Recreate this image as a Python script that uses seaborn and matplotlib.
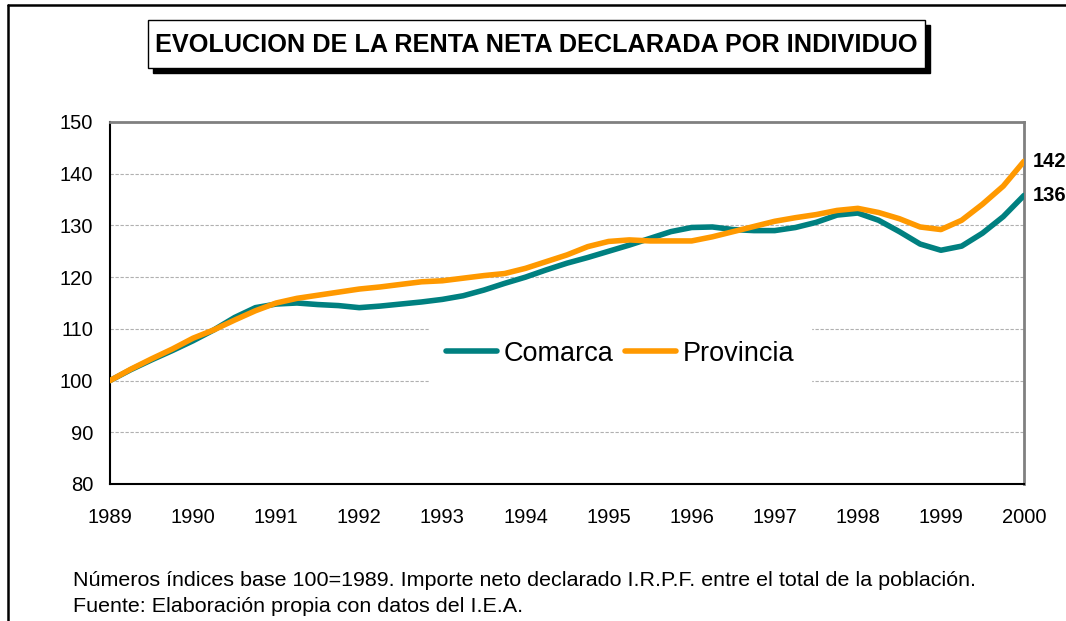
import numpy as np
import pandas as pd
import matplotlib.pyplot as plt
import seaborn as sns
from matplotlib.patches import Rectangle
from matplotlib.lines import Line2D

# -----------------------------------
# Data (quarterly, index 1989 = 100)
# -----------------------------------
periods = np.arange(1989, 2000.01, 0.25)

comarca = [100.0, 102.1, 104.0, 105.8, 107.7, 109.8, 112.2, 114.1,
           114.8, 115.0, 114.7, 114.5, 114.1, 114.4, 114.8, 115.2,
           115.7, 116.4, 117.5, 118.8, 120.0, 121.4, 122.7, 123.8,
           125.0, 126.2, 127.5, 128.8, 129.6, 129.7, 129.2, 129.0,
           129.0, 129.6, 130.6, 132.0, 132.4, 131.0, 128.8, 126.4,
           125.2, 126.0, 128.5, 131.7, 135.8]

provincia = [100.0, 102.2, 104.2, 106.1, 108.2, 109.8, 111.7, 113.5,
             115.0, 115.9, 116.5, 117.1, 117.7, 118.1, 118.6, 119.1,
             119.3, 119.8, 120.3, 120.7, 121.7, 123.0, 124.3, 125.9,
             126.9, 127.2, 127.0, 127.0, 127.0, 127.8, 128.8, 129.8,
             130.8, 131.5, 132.1, 132.9, 133.3, 132.5, 131.3, 129.7,
             129.2, 131.0, 134.1, 137.6, 142.4]

year_ticks = list(range(1989, 2001))
y_ticks = list(range(80, 151, 10))
end_labels = {"Comarca": "136", "Provincia": "142"}

colors = {"Comarca": "#008080", "Provincia": "#FF9900"}

df = pd.DataFrame({
    "periodo": np.concatenate([periods, periods]),
    "indice": comarca + provincia,
    "serie": ["Comarca"] * len(periods) + ["Provincia"] * len(periods),
})

# -----------------------------------
# Plot Style
# -----------------------------------
sns.set_style("white")
plt.rcParams["font.family"] = ["Liberation Sans", "DejaVu Sans"]
plt.rcParams["text.color"] = "black"

W, H = 1066, 621
fig = plt.figure(figsize=(W / 100, H / 100), dpi=100)
ax = fig.add_axes([110 / W, 1 - 484 / H, (1024 - 110) / W, (484 - 122) / H])

# grid lines
for v in y_ticks[1:-1]:
    ax.axhline(v, color="#b0b0b0", lw=0.8, ls=(0, (3, 1.5)), zorder=0)

sns.lineplot(
    data=df,
    x="periodo",
    y="indice",
    hue="serie",
    palette=colors,
    linewidth=4,
    ax=ax,
    legend=False,
    zorder=3,
)

ax.set_xlim(1989, 2000)
ax.set_ylim(80, 150)
ax.set_xticks(year_ticks)
ax.set_yticks(y_ticks)
ax.set_xlabel("")
ax.set_ylabel("")
ax.tick_params(axis="both", direction="out", length=6, width=1.2,
               color="black", labelsize=14.5, labelcolor="black")
ax.tick_params(axis="x", pad=11)
ax.tick_params(axis="y", pad=6)

for side in ["left", "bottom"]:
    ax.spines[side].set_color("black")
    ax.spines[side].set_linewidth(1.5)
for side in ["top", "right"]:
    ax.spines[side].set_color("#808080")
    ax.spines[side].set_linewidth(2)

# end-of-series labels
ax.text(2000.11, provincia[-1], end_labels["Provincia"], fontsize=14.5,
        fontweight="bold", va="center", ha="left", clip_on=False)
ax.text(2000.11, comarca[-1], end_labels["Comarca"], fontsize=14.5,
        fontweight="bold", va="center", ha="left", clip_on=False)

# legend
handles = [Line2D([0], [0], color=colors[k], lw=4, solid_capstyle="round")
           for k in ["Comarca", "Provincia"]]
leg = ax.legend(handles, ["Comarca", "Provincia"], loc="center",
                bbox_to_anchor=(0.558, 0.36), ncol=2, fontsize=19.5,
                frameon=True, fancybox=False, framealpha=1,
                edgecolor="white", facecolor="white",
                handlelength=1.9, handletextpad=0.25, columnspacing=0.4,
                borderpad=0.6)
leg.set_zorder(2)

# title box with shadow
bx0, bx1, by0, by1 = 148, 925, 20, 68
fig.patches.append(Rectangle(((bx0 + 5) / W, 1 - (by1 + 5) / H),
                             (bx1 - bx0) / W, (by1 - by0) / H,
                             transform=fig.transFigure, facecolor="black",
                             edgecolor="black", zorder=1))
fig.patches.append(Rectangle((bx0 / W, 1 - by1 / H),
                             (bx1 - bx0) / W, (by1 - by0) / H,
                             transform=fig.transFigure, facecolor="white",
                             edgecolor="black", lw=1, zorder=2))
fig.text((bx0 + bx1) / 2 / W, 1 - 45 / H,
         "EVOLUCION DE LA RENTA NETA DECLARADA POR INDIVIDUO",
         ha="center", va="center", fontsize=18.2, fontweight="bold", zorder=3)

# footnote
fig.text(73 / W, 1 - 581 / H,
         "Números índices base 100=1989. Importe neto declarado I.R.P.F. "
         "entre el total de la población.",
         ha="left", va="center", fontsize=15.45)
fig.text(73 / W, 1 - 607 / H,
         "Fuente: Elaboración propia con datos del I.E.A.",
         ha="left", va="center", fontsize=15.45)

# outer frame (left and top edges visible)
fig.add_artist(Line2D([8 / W, 8 / W], [0, 1 - 5 / H], color="black",
                      lw=1.8, transform=fig.transFigure))
fig.add_artist(Line2D([8 / W, 1], [1 - 5 / H, 1 - 5 / H], color="black",
                      lw=1.8, transform=fig.transFigure))

plt.savefig("out.png", dpi=100)
plt.close()
